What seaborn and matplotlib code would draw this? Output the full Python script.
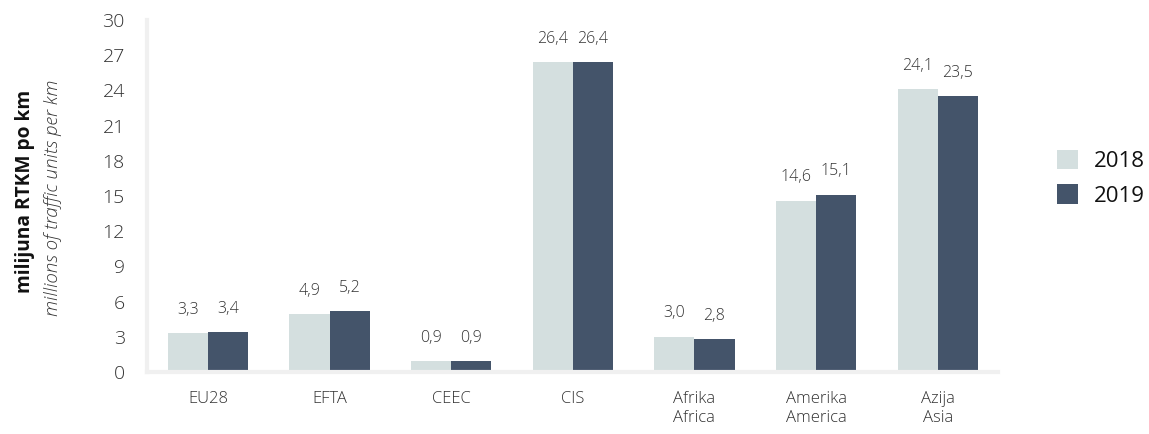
import matplotlib
matplotlib.use("Agg")
import matplotlib.pyplot as plt
import seaborn as sns
import pandas as pd

categories = ["EU28", "EFTA", "CEEC", "CIS", "Afrika\nAfrica", "Amerika\nAmerica", "Azija\nAsia"]
values_2018 = [3.3, 4.9, 0.9, 26.4, 3.0, 14.6, 24.1]
values_2019 = [3.4, 5.2, 0.9, 26.4, 2.8, 15.1, 23.5]
years = ["2018", "2019"]
colors = ["#d4dfdf", "#44546a"]

df = pd.DataFrame({
    "cat": categories * 2,
    "year": [years[0]] * len(categories) + [years[1]] * len(categories),
    "val": values_2018 + values_2019,
})

sns.set_style("white")
plt.rcParams["font.family"] = ["Open Sans", "DejaVu Sans"]
text_color = "#333333"

fig = plt.figure(figsize=(11.49, 4.34), dpi=100)
ax = fig.add_axes([0.128, 0.143, 0.741, 0.811])

sns.barplot(data=df, x="cat", y="val", hue="year", palette=colors, width=0.66,
            gap=0, ax=ax, linewidth=0, saturation=1, legend=True)

for cont in ax.containers:
    ax.bar_label(cont, labels=[f"{b.get_height():.1f}".replace(".", ",") for b in cont],
                 padding=11, fontsize=11.5, color=text_color, fontweight="light")

ax.set_ylim(0, 30)
ax.set_xlim(-0.5, len(categories) - 0.5)
ax.set_yticks(range(0, 31, 3))
ax.set_xticks([i - 0.5 for i in range(len(categories) + 1)], minor=True)
ax.tick_params(axis="y", which="major", length=6, width=3, color="#f0f0f0",
               labelsize=14, labelcolor=text_color, pad=10)
ax.tick_params(axis="x", which="major", length=0, labelsize=12, labelcolor=text_color, pad=14)
ax.tick_params(axis="x", which="minor", length=6, width=3, color="#f0f0f0")
for lbl in ax.get_yticklabels() + ax.get_xticklabels():
    lbl.set_fontweight("light")

for s in ["top", "right"]:
    ax.spines[s].set_visible(False)
for s in ["left", "bottom"]:
    ax.spines[s].set_color("#f0f0f0")
    ax.spines[s].set_linewidth(3)
ax.set_xlabel("")
ax.set_ylabel("")

leg = ax.legend(loc="center left", bbox_to_anchor=(1.045, 0.55), frameon=False,
                fontsize=16, handlelength=0.95, handleheight=0.95, handletextpad=0.7,
                labelspacing=0.55)
for t in leg.get_texts():
    t.set_color("#111111")

fig.text(0.022, 0.56, "milijuna RTKM po km", rotation=90, ha="center", va="center",
         fontsize=13.8, fontweight="bold", color="#111111")
fig.text(0.046, 0.544, "millions of traffic units per km", rotation=90, ha="center", va="center",
         fontsize=13.5, style="italic", fontweight="light", color=text_color)

fig.savefig("out.png", dpi=100)
